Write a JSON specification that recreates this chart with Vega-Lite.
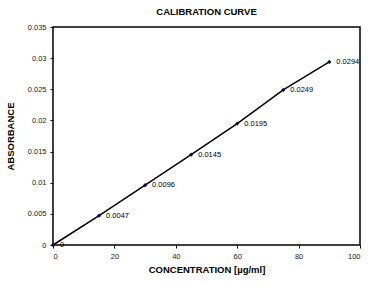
{
  "$schema": "https://vega.github.io/schema/vega-lite/v6.json",
  "width": 307,
  "height": 218,
  "autosize": {"type": "none"},
  "padding": {"left": 53, "top": 27, "right": 32, "bottom": 40},
  "background": "white",
  "title": {"text": "CALIBRATION CURVE", "font": "Liberation Sans", "fontSize": 9.5, "fontWeight": "bold", "color": "#000", "offset": 7},
  "data": {"values": [
    {"conc": 0, "abs": 0, "label": "0"},
    {"conc": 15, "abs": 0.0047, "label": "0.0047"},
    {"conc": 30, "abs": 0.0096, "label": "0.0096"},
    {"conc": 45, "abs": 0.0145, "label": "0.0145"},
    {"conc": 60, "abs": 0.0195, "label": "0.0195"},
    {"conc": 75, "abs": 0.0249, "label": "0.0249"},
    {"conc": 90, "abs": 0.0294, "label": "0.0294"}
  ]},
  "encoding": {
    "x": {"field": "conc", "type": "quantitative", "scale": {"domain": [0, 100], "nice": false},
      "axis": {"title": "CONCENTRATION [µg/ml]", "values": [0, 20, 40, 60, 80, 100], "grid": false, "domain": false, "tickSize": 3, "tickColor": "#000", "labelFont": "Liberation Sans", "labelFontSize": 7.5, "labelColor": "#222", "labelPadding": 4, "titleFont": "Liberation Sans", "titleFontSize": 9.5, "titleFontWeight": "bold", "titleColor": "#000", "titlePadding": 5}},
    "y": {"field": "abs", "type": "quantitative", "scale": {"domain": [0, 0.035], "nice": false},
      "axis": {"title": "ABSORBANCE", "format": "~g", "values": [0, 0.005, 0.01, 0.015, 0.02, 0.025, 0.03, 0.035], "grid": false, "domain": false, "tickSize": 3, "tickColor": "#000", "labelFont": "Liberation Sans", "labelFontSize": 7.5, "labelColor": "#222", "labelPadding": 4, "titleFont": "Liberation Sans", "titleFontSize": 9.5, "titleFontWeight": "bold", "titleColor": "#000", "titlePadding": 12}}
  },
  "layer": [
    {"mark": {"type": "line", "color": "#000", "strokeWidth": 1.5}},
    {"mark": {"type": "point", "shape": "diamond", "filled": true, "color": "#0a0a5a", "size": 18, "opacity": 1}},
    {"mark": {"type": "text", "align": "left", "dx": 7, "dy": 0, "font": "Liberation Sans", "fontSize": 7.5, "color": "#000"}, "encoding": {"text": {"field": "label"}}}
  ],
  "config": {"view": {"stroke": "#000", "strokeWidth": 1.5}}
}
